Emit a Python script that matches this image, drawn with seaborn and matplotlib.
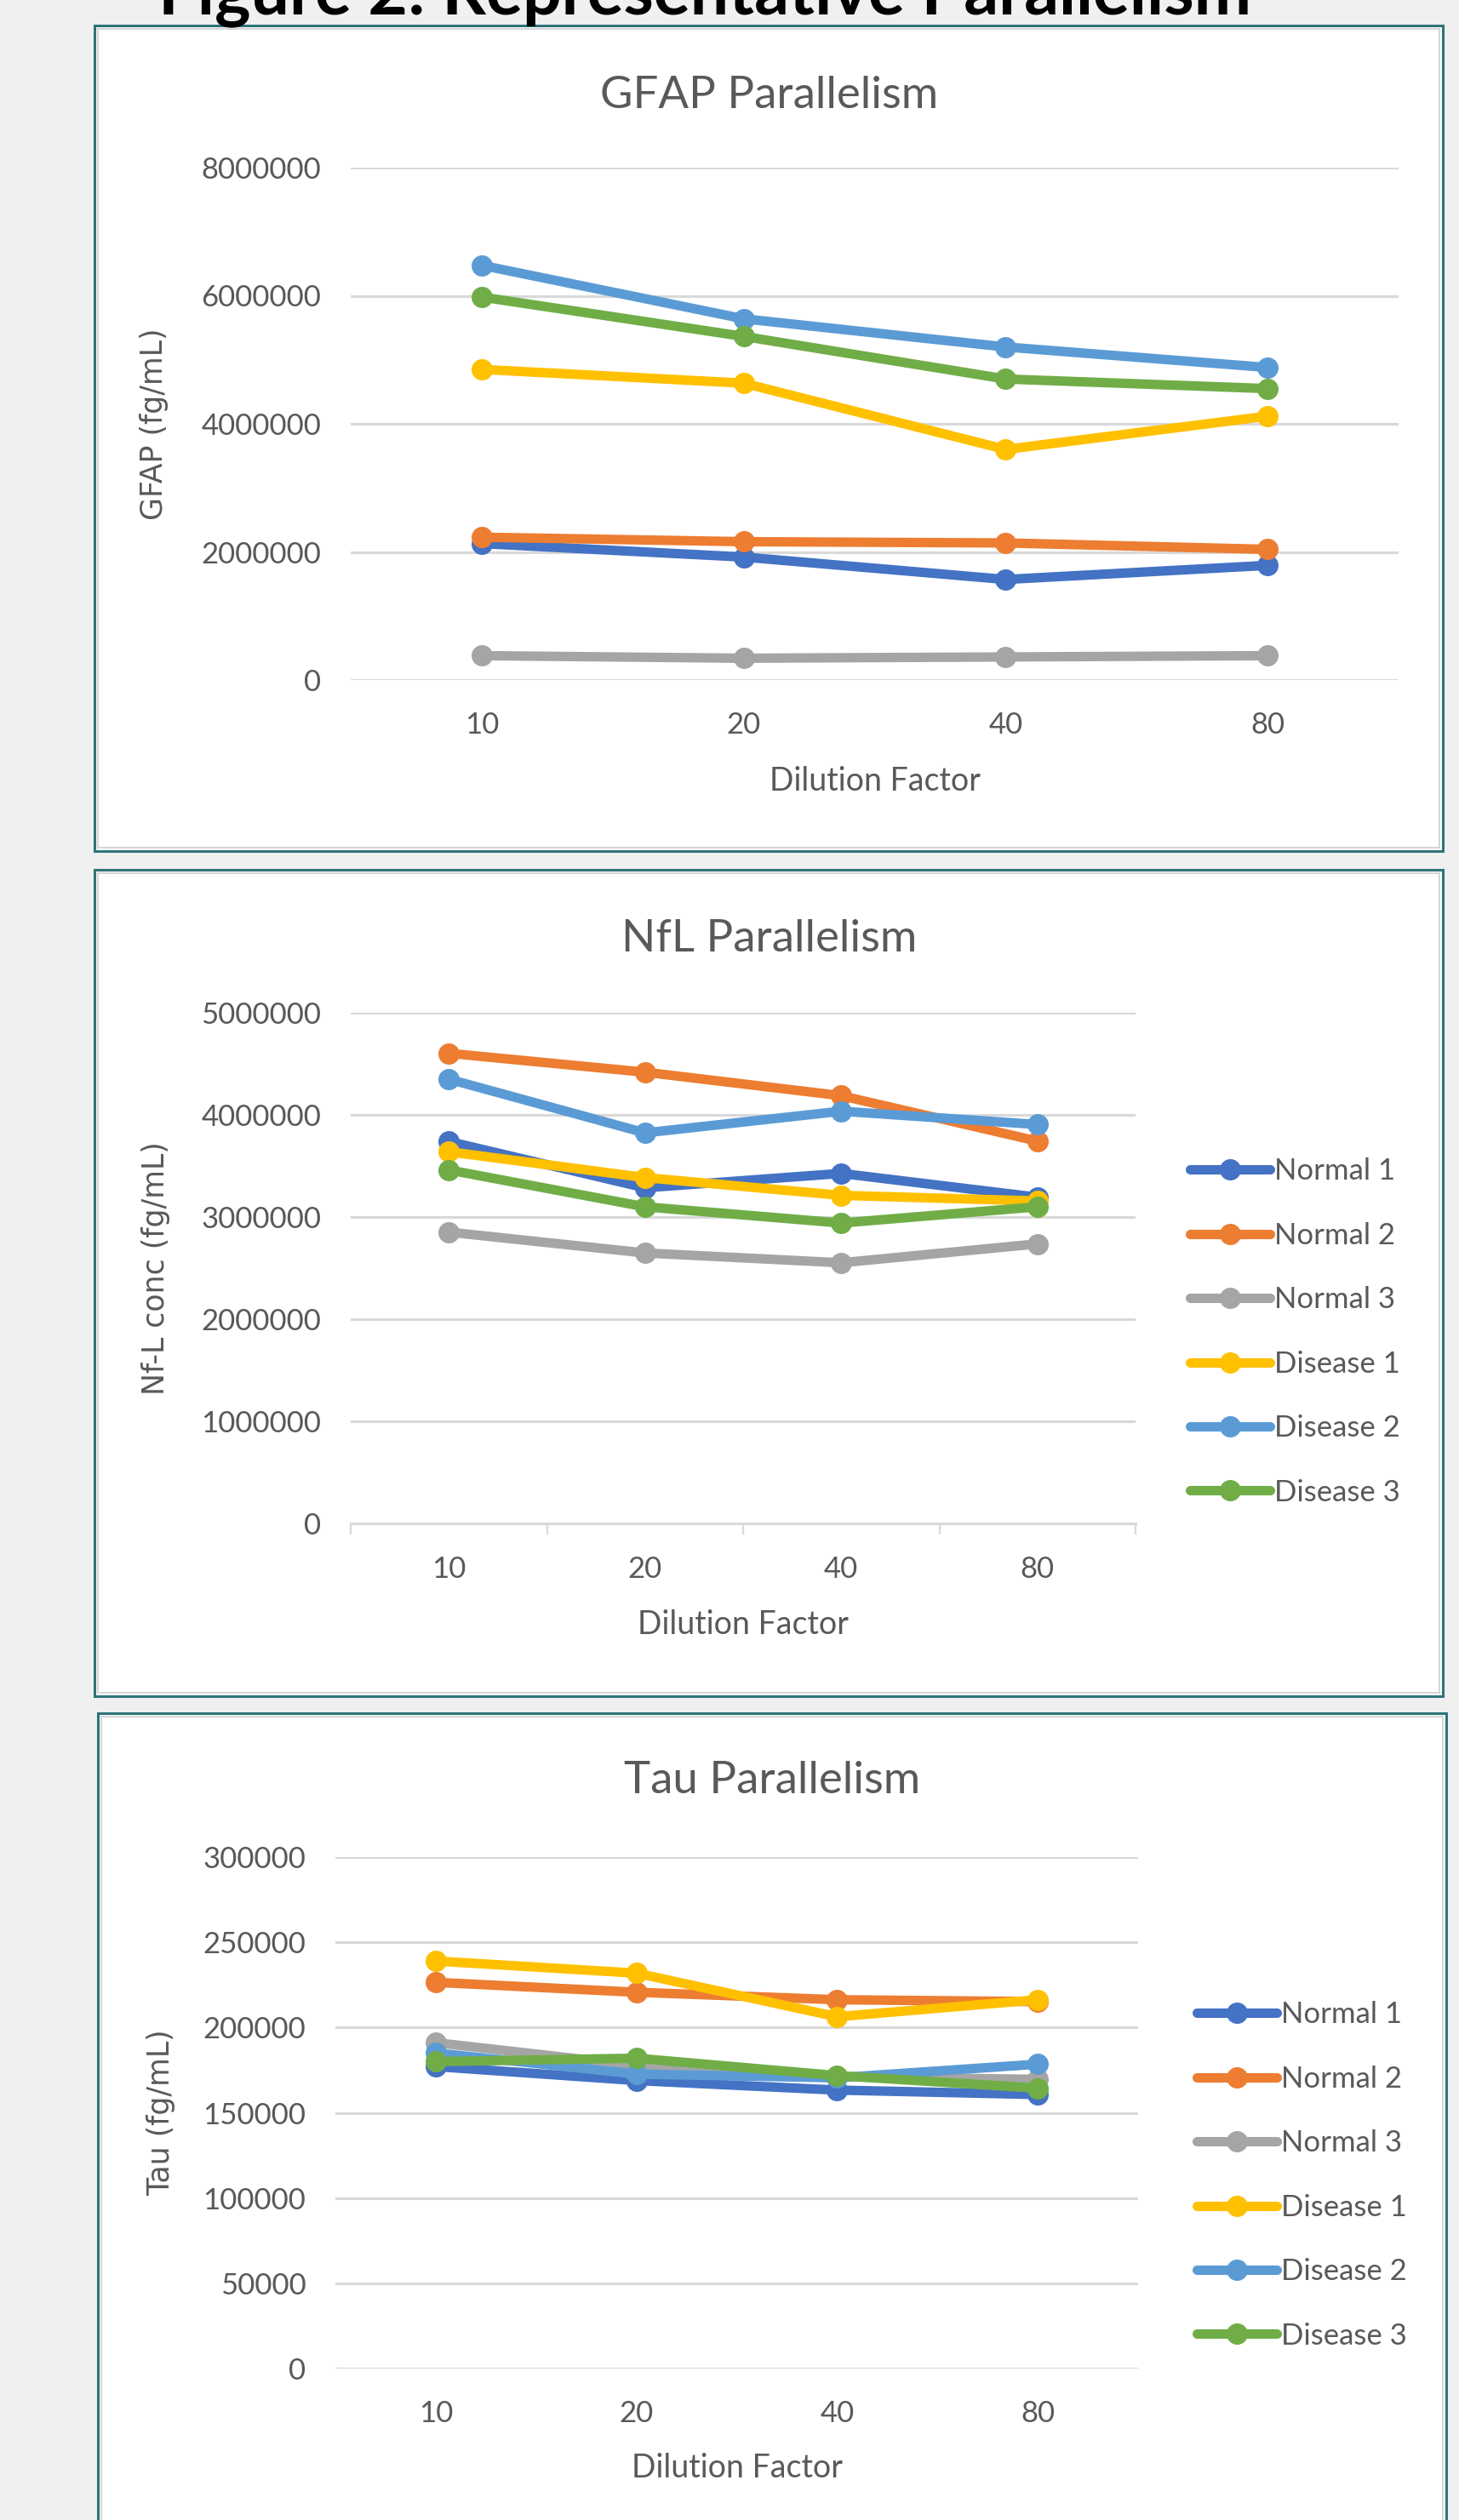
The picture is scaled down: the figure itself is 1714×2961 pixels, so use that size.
import numpy as np
import pandas as pd
import matplotlib
matplotlib.use("Agg")
import matplotlib.pyplot as plt
import seaborn as sns
from matplotlib.patches import Rectangle
from matplotlib.lines import Line2D
from matplotlib.ticker import MultipleLocator, FuncFormatter, FixedLocator

# ===============================
# Data
# ===============================

dilutions = ["10", "20", "40", "80"]
samples = ["Normal 1", "Normal 2", "Normal 3", "Disease 1", "Disease 2", "Disease 3"]
colors = ["#4472C4", "#ED7D31", "#A5A5A5", "#FFC000", "#5B9BD5", "#70AD47"]

# rows follow `samples`, columns follow `dilutions`
gfap = [
    [2130000, 1920000, 1570000, 1790000],
    [2230000, 2160000, 2140000, 2040000],
    [380000, 340000, 360000, 380000],
    [4850000, 4635000, 3600000, 4120000],
    [6475000, 5640000, 5200000, 4880000],
    [5980000, 5365000, 4700000, 4550000],
]
nfl = [
    [3740000, 3286000, 3427000, 3194000],
    [4603000, 4418000, 4188000, 3743000],
    [2852000, 2648000, 2552000, 2737000],
    [3639000, 3386000, 3212000, 3157000],
    [4350000, 3824000, 4036000, 3906000],
    [3461000, 3100000, 2941000, 3100000],
]
tau = [
    [177100, 168900, 163300, 160700],
    [226500, 220700, 216300, 215200],
    [191100, 177800, 171100, 169600],
    [239000, 231900, 206300, 216300],
    [185100, 172700, 170500, 178500],
    [180000, 182000, 171800, 164400],
]

# ===============================
# Style
# ===============================

sns.set_theme(style="white")
plt.rcParams["font.family"] = ["Lato", "DejaVu Sans"]

W, H = 1714, 2961
GREY_TXT = "#595959"
GRID = "#D9D9D9"
LW = 8
MS = 18

fig = plt.figure(figsize=(W / 100, H / 100), dpi=100)
fig.patch.set_facecolor("#F0F0F0")

# the page heading is cut off at the top edge, as in the reference
fig.text(828 / W, 1 - 16 / H, "Figure 2: Representative Parallelism",
         ha="center", va="baseline", fontsize=58, fontweight="bold", color="black")


def fx(x):
    return x / W


def fy(y):
    return 1 - y / H


def draw_panel(values, title, ylabel, ymax, ystep, box, axbox, title_y,
               ylabel_x, xlabel_y, legend_at=None, boundary_ticks=False):
    x0, y0, x1, y1 = box
    fig.patches.append(Rectangle((fx(x0), fy(y1)), (x1 - x0) / W, (y1 - y0) / H,
                                 transform=fig.transFigure, facecolor="white",
                                 edgecolor="#2E7479", lw=2.2, zorder=-5))
    fig.patches.append(Rectangle((fx(x0 + 4), fy(y1 - 4)), (x1 - x0 - 8) / W, (y1 - y0 - 8) / H,
                                 transform=fig.transFigure, facecolor="none",
                                 edgecolor="#D6D6D6", lw=1.5, zorder=-4))

    l, t, r, b = axbox
    ax = fig.add_axes([fx(l), fy(b), (r - l) / W, (b - t) / H])
    ax.set_facecolor("none")

    df = pd.DataFrame({
        "dilution": np.tile(dilutions, len(samples)),
        "sample": np.repeat(samples, len(dilutions)),
        "value": np.ravel(values),
    })
    sns.pointplot(data=df, x="dilution", y="value", hue="sample",
                  order=dilutions, hue_order=samples, palette=colors,
                  errorbar=None, markers="o", linestyles="-",
                  linewidth=LW, markersize=MS, markeredgewidth=0,
                  solid_capstyle="round", legend=False, ax=ax)

    ax.set_xlim(-0.5, len(dilutions) - 0.5)
    ax.set_ylim(0, ymax)
    ax.yaxis.set_major_locator(MultipleLocator(ystep))
    ax.yaxis.set_major_formatter(FuncFormatter(lambda v, p: f"{v:.0f}"))
    ax.yaxis.grid(True, color=GRID, lw=2.2)
    ax.xaxis.grid(False)
    ax.set_axisbelow(True)
    for s in ax.spines.values():
        s.set_visible(False)

    ax.tick_params(axis="both", which="major", length=0, labelsize=25, labelcolor=GREY_TXT)
    ax.tick_params(axis="y", pad=25)
    ax.tick_params(axis="x", pad=27)

    if boundary_ticks:
        ax.spines["bottom"].set_visible(True)
        ax.spines["bottom"].set_color(GRID)
        ax.spines["bottom"].set_linewidth(2.2)
        ax.xaxis.set_minor_locator(FixedLocator(np.arange(len(dilutions) + 1) - 0.5))
        ax.tick_params(axis="x", which="minor", bottom=True, length=9, width=1.6,
                       color=GRID, direction="out")

    ax.set_xlabel("Dilution Factor", fontsize=27, color=GREY_TXT)
    ax.xaxis.set_label_coords(0.5, (b - xlabel_y) / (b - t))
    ax.xaxis.label.set_va("center")

    ax.set_ylabel(ylabel, fontsize=25, color=GREY_TXT, family="DejaVu Sans")
    ax.yaxis.set_label_coords((ylabel_x - l) / (r - l), 0.5)
    ax.yaxis.label.set_va("center")

    fig.text(fx((x0 + x1) / 2), fy(title_y), title, ha="center", va="baseline",
             fontsize=38, color=GREY_TXT)

    if legend_at is not None:
        handles = [Line2D([], [], color=c, lw=LW, marker="o", markersize=MS,
                          markeredgewidth=0, solid_capstyle="round") for c in colors]
        fig.legend(handles, samples, loc="center left",
                   bbox_to_anchor=(fx(legend_at[0]), fy(legend_at[1])),
                   frameon=False, fontsize=25, handlelength=2.7, handletextpad=0.15,
                   labelspacing=1.25, borderpad=0, borderaxespad=0,
                   labelcolor=GREY_TXT, numpoints=1)
    return ax


draw_panel(gfap, "GFAP Parallelism", "GFAP (fg/mL)", 8000000, 2000000,
           box=(111.5, 30, 1695, 1000), axbox=(412, 197, 1643, 799),
           title_y=127, ylabel_x=181, xlabel_y=918)

draw_panel(nfl, "NfL Parallelism", "Nf-L conc (fg/mL)", 5000000, 1000000,
           box=(111.5, 1022, 1695, 1993), axbox=(412, 1190, 1334, 1790),
           title_y=1118, ylabel_x=183, xlabel_y=1909,
           legend_at=(1398, 1565), boundary_ticks=True)

draw_panel(tau, "Tau Parallelism", "Tau (fg/mL)", 300000, 50000,
           box=(115, 2013, 1699, 3010), axbox=(394, 2182, 1337, 2783),
           title_y=2107, ylabel_x=189, xlabel_y=2900,
           legend_at=(1406, 2556))

fig.savefig("out.png", dpi=100, facecolor=fig.get_facecolor())
